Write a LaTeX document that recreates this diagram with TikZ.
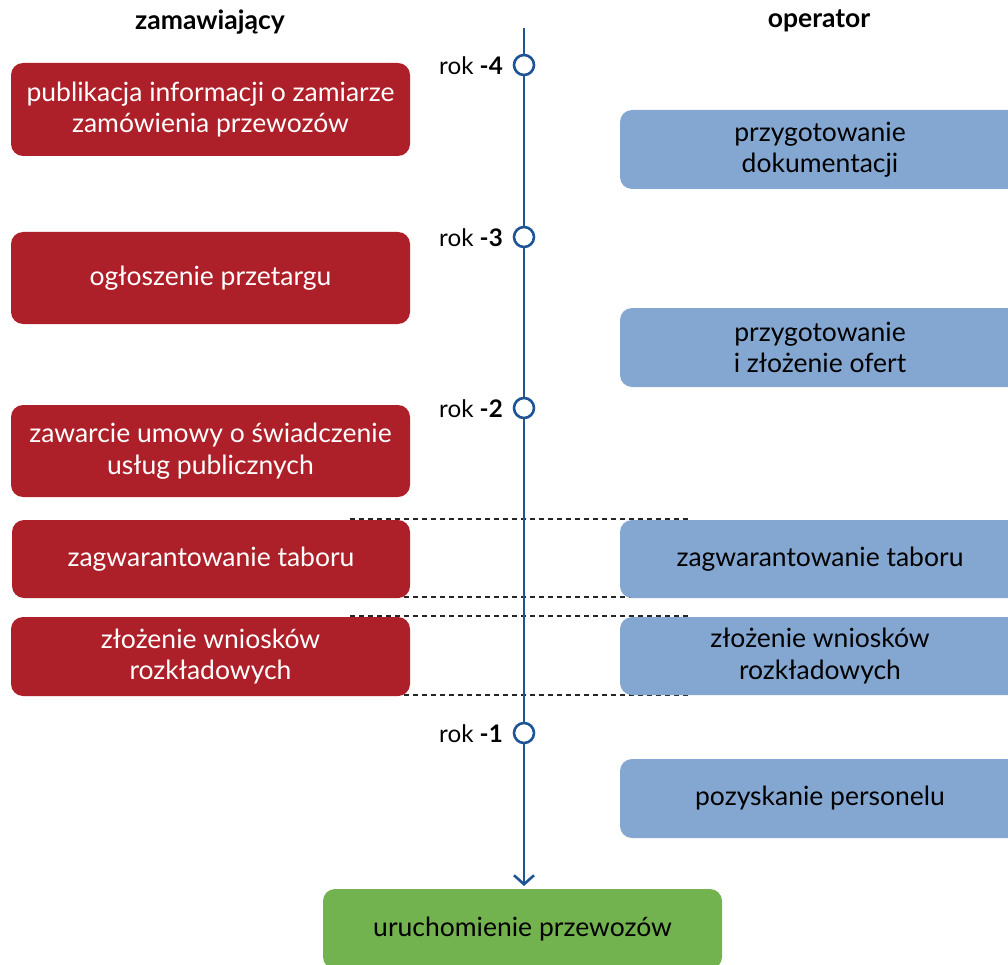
\documentclass[tikz,border=0pt]{standalone}
\usepackage{fontspec}
\setmainfont{Lato}
\usetikzlibrary{arrows.meta}
\definecolor{cred}{HTML}{AE2029}
\definecolor{cblue}{HTML}{84A7D2}
\definecolor{cgreen}{HTML}{72B34F}
\definecolor{cline}{HTML}{1F5597}
\begin{document}
\begin{tikzpicture}[x=1pt,y=-1pt,
  box/.style={rounded corners=12pt, align=center, inner sep=0pt, font=\fontsize{26.5}{31.5}\selectfont},
  redbox/.style={box, fill=cred, text=white},
  bluebox/.style={box, fill=cblue, text=black},
  greenbox/.style={box, fill=cgreen, text=black},
  yearmark/.style={circle, draw=cline, line width=2.6pt, fill=white, minimum size=20pt, inner sep=0pt},
  yearlabel/.style={anchor=east, font=\fontsize{24.2}{28}\selectfont, inner sep=0pt},
  header/.style={font=\fontsize{26.5}{30}\selectfont\bfseries},
  guide/.style={line width=1.2pt, dash pattern=on 5pt off 4pt, black!85}]
\useasboundingbox (0,0) rectangle (1008,965);
% dashed guides
\coordinate (g1a) at (350,519); \coordinate (g1b) at (690,519);
\coordinate (g2a) at (350,597); \coordinate (g2b) at (690,597);
\coordinate (g3a) at (350,616); \coordinate (g3b) at (690,616);
\coordinate (g4a) at (350,695); \coordinate (g4b) at (690,695);
\draw[guide] (g1a) -- (g1b);
\draw[guide] (g2a) -- (g2b);
\draw[guide] (g3a) -- (g3b);
\draw[guide] (g4a) -- (g4b);
% headers
\node[header] (hz) at (210,22) {zamawiający};
\node[header] (ho) at (819,21) {operator};
% red boxes
\node[redbox, minimum width=399pt, minimum height=93pt] (r1) at (210.5,109.5) {publikacja informacji o zamiarze\\zamówienia przewozów};
\node[redbox, minimum width=399pt, minimum height=92pt] (r2) at (210.5,278) {ogłoszenie przetargu};
\node[redbox, minimum width=399pt, minimum height=92pt] (r3) at (210.5,451) {zawarcie umowy o świadczenie\\usług publicznych};
\node[redbox, minimum width=398pt, minimum height=78pt] (r4) at (211,559) {zagwarantowanie taboru};
\node[redbox, minimum width=399pt, minimum height=79pt] (r5) at (210.5,656.5) {złożenie wniosków\\rozkładowych};
% blue boxes
\node[bluebox, minimum width=400pt, minimum height=79pt] (b1) at (820,149.5) {przygotowanie\\dokumentacji};
\node[bluebox, minimum width=400pt, minimum height=79pt] (b2) at (820,347.5) {przygotowanie\\i złożenie ofert};
\node[bluebox, minimum width=400pt, minimum height=78pt] (b3) at (820,559) {zagwarantowanie taboru};
\node[bluebox, minimum width=400pt, minimum height=78pt] (b4) at (820,656) {złożenie wniosków\\rozkładowych};
\node[bluebox, minimum width=400pt, minimum height=79pt] (b5) at (820,798.5) {pozyskanie personelu};
% green box
\node[greenbox, minimum width=399pt, minimum height=80pt] (g) at (522.5,929) {uruchomienie przewozów};
% timeline
\coordinate (top) at (524,28);
\coordinate (bot) at (524,886);
\draw[cline, line width=2.8pt, -{Straight Barb[length=9pt,width=20pt,line width=2.6pt]}] (top) -- (bot);
\node[yearmark] (y4) at (524,65) {};
\node[yearmark] (y3) at (524,237) {};
\node[yearmark] (y2) at (524,408) {};
\node[yearmark] (y1) at (524,733) {};
\node[yearlabel] (l4) at (503,66) {rok \textbf{-4}};
\node[yearlabel] (l3) at (503,238) {rok \textbf{-3}};
\node[yearlabel] (l2) at (503,409) {rok \textbf{-2}};
\node[yearlabel] (l1) at (503,734) {rok \textbf{-1}};
\end{tikzpicture}
\end{document}
